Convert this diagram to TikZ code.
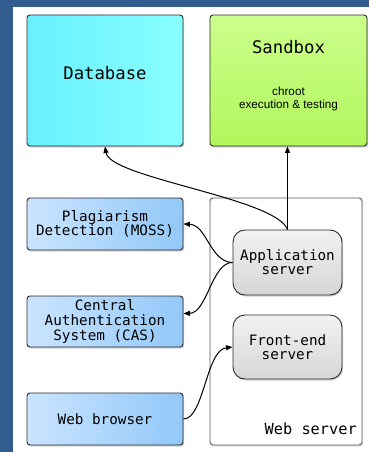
\documentclass[tikz,border=0pt]{standalone}
\usepackage{fontspec}
\usetikzlibrary{arrows.meta,shadows}
\newfontfamily\monofam{DejaVu Sans Mono}
\newfontfamily\sansfam{Liberation Sans}

\definecolor{frameblue}{RGB}{52,93,143}
\definecolor{edge}{RGB}{45,45,45}
\definecolor{cyanA}{RGB}{104,240,255}
\definecolor{cyanB}{RGB}{136,255,255}
\definecolor{greenA}{RGB}{204,255,140}
\definecolor{greenB}{RGB}{176,246,92}
\definecolor{blueA}{RGB}{202,228,255}
\definecolor{blueB}{RGB}{146,200,248}
\definecolor{greyA}{RGB}{242,242,242}
\definecolor{greyB}{RGB}{214,214,214}

\tikzset{
  boxbase/.style={draw=edge, line width=0.9pt, rounded corners=3pt,
    drop shadow={shadow xshift=1.2pt, shadow yshift=-1.5pt, opacity=0.35},
    inner sep=0pt, align=center},
  dbbox/.style={boxbase, left color=cyanA, right color=cyanB,
    minimum width=156pt, minimum height=131pt},
  sandbox/.style={boxbase, shading angle=135, top color=greenA, bottom color=greenB,
    minimum width=157pt, minimum height=131pt},
  svcbox/.style={boxbase, left color=blueA, right color=blueB,
    minimum width=156pt, minimum height=52pt,
    font=\monofam\fontsize{14.3}{14.7}\selectfont},
  srvbox/.style={boxbase, rounded corners=12pt, top color=greyA, bottom color=greyB,
    minimum width=109pt, minimum height=65pt,
    font=\monofam\fontsize{14.3}{14.1}\selectfont},
  hostbox/.style={draw=edge!80, line width=0.9pt, rounded corners=3pt, fill=white,
    drop shadow={shadow xshift=1.2pt, shadow yshift=-1.5pt, opacity=0.25},
    minimum width=152pt, minimum height=247pt, inner sep=0pt},
  bigtitle/.style={anchor=base, inner sep=0pt, font=\monofam\fontsize{17.3}{20}\selectfont},
  flow/.style={draw=black, line width=1pt, -{Triangle[length=6.5pt,width=5pt]}}
}

\begin{document}
\begin{tikzpicture}[x=1pt, y=-1pt]
  % page frame
  \fill[frameblue] (0,0) rectangle (369,452);
  \fill[white] (13,7) rectangle (369,452);
  \useasboundingbox (0,0) rectangle (369,452);

  % upper tier
  \node[dbbox] (db) at (105,80.5) {};
  \node[bigtitle] (dbtitle) at (105,79) {Database};
  \node[sandbox] (sb) at (288.5,80.5) {};
  \node[bigtitle] (sbtitle) at (288.5,53) {Sandbox};
  \node[anchor=base, inner sep=0pt, align=center,
        font=\sansfam\fontsize{11.7}{13}\selectfont] (sbnote) at (288.5,108)
        {chroot\\execution \& testing};

  % external services
  \node[svcbox] (moss) at (105,224) {Plagiarism\\Detection (MOSS)};
  \node[svcbox, minimum height=51pt] (cas) at (105,321.5) {Central\\Authentication\\System (CAS)};
  \node[svcbox] (browser) at (105,419) {Web browser};

  % web server host
  \node[hostbox] (host) at (286,321.5) {};
  \node[anchor=base east, inner sep=0pt, font=\monofam\fontsize{15.3}{18}\selectfont]
        (hostlabel) at (357,434) {Web server};
  \node[srvbox] (app) at (287.5,262.5) {Application\\server};
  \node[srvbox, minimum height=64pt] (front) at (287.5,347) {Front-end\\server};

  % connectors
  \coordinate (apptop) at (app.north);
  \draw[flow] (apptop) -- (apptop |- sb.south);
  \draw[flow] (apptop) .. controls (276,198) and (110,178) .. (db.south);
  \draw[flow] (app.west) .. controls (210,262) and (207,225) .. (moss.east);
  \draw[flow] (app.west) .. controls (212,262) and (207,313) .. ([yshift=8pt]cas.east);
  \draw[flow] (browser.east) .. controls (204,419) and (206,350) .. (front.west);
\end{tikzpicture}
\end{document}
